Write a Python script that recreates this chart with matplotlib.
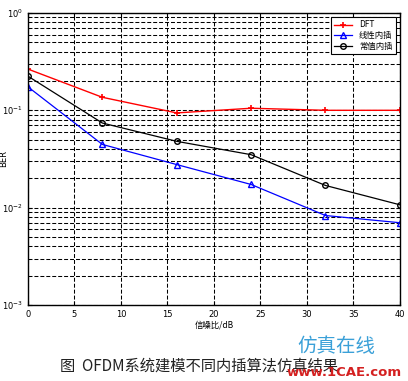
import matplotlib
matplotlib.use("Agg")
import matplotlib.pyplot as plt
from matplotlib.ticker import LogLocator, NullFormatter, MultipleLocator

snr = [0, 8, 16, 24, 32, 40]
ber_dft = [0.265, 0.136, 0.094, 0.105, 0.100, 0.100]
ber_linear = [0.174, 0.0446, 0.0277, 0.0173, 0.0083, 0.0070]
ber_const = [0.224, 0.074, 0.048, 0.035, 0.0169, 0.0107]
labels = ["DFT", "线性内插", "常值内插"]

plt.rcParams['font.family'] = ['DejaVu Sans', 'Noto Sans CJK SC']

fig = plt.figure(figsize=(4.08, 3.81), dpi=100)
ax = fig.add_axes([0.0686, 0.1995, 0.9114, 0.7665])

ax.semilogy(snr, ber_dft, color='red', marker='+', markersize=5, mew=1.2, lw=1, label=labels[0])
ax.semilogy(snr, ber_linear, color='blue', marker='^', markersize=4, mfc='none', lw=0.9, label=labels[1])
ax.semilogy(snr, ber_const, color='black', marker='o', markersize=4, mfc='none', lw=0.9, label=labels[2])

dash = (0, (3.8, 1.9))
ax.set_xlim(0, 40)
ax.set_ylim(1e-3, 1)
ax.xaxis.set_major_locator(MultipleLocator(5))
ax.yaxis.set_major_locator(LogLocator(base=10))
ax.yaxis.set_minor_locator(LogLocator(base=10, subs=range(2, 10)))
ax.yaxis.set_minor_formatter(NullFormatter())
ax.grid(True, which='major', axis='both', color='black', ls=dash, lw=0.75)
ax.grid(True, which='minor', axis='y', color='black', ls=dash, lw=0.75)
ax.tick_params(which='both', direction='in', labelsize=6, length=3, top=True, right=True)
ax.tick_params(which='minor', length=2)
for s in ax.spines.values():
    s.set_linewidth(1.0)

ax.set_xlabel("信噪比/dB", fontsize=6, labelpad=1, family=['Noto Sans CJK SC', 'DejaVu Sans'])
ax.set_ylabel("BER", fontsize=6)
ax.yaxis.set_label_coords(-0.054, 0.5)

leg = ax.legend(loc='upper right', frameon=True, fancybox=False,
                edgecolor='black', framealpha=1, borderpad=0.4, labelspacing=0.2,
                handlelength=2.2, prop={'family': ['Noto Sans CJK SC', 'DejaVu Sans'], 'size': 6})
leg.get_frame().set_linewidth(0.8)

fig.text(0.147, 0.028, "图  OFDM系统建模不同内插算法仿真结果", fontsize=11,
         family=['Noto Sans CJK SC', 'DejaVu Sans'], color='#222222')
fig.text(0.728, 0.064, "仿真在线", fontsize=14, color='#3aa0d8',
         family=['Noto Sans CJK SC', 'DejaVu Sans'], va='bottom')
fig.text(0.985, 0.004, "www.1CAE.com", fontsize=9.5, color='#d42020', weight='bold',
         ha='right', va='bottom')

fig.savefig("out.png", dpi=100)
